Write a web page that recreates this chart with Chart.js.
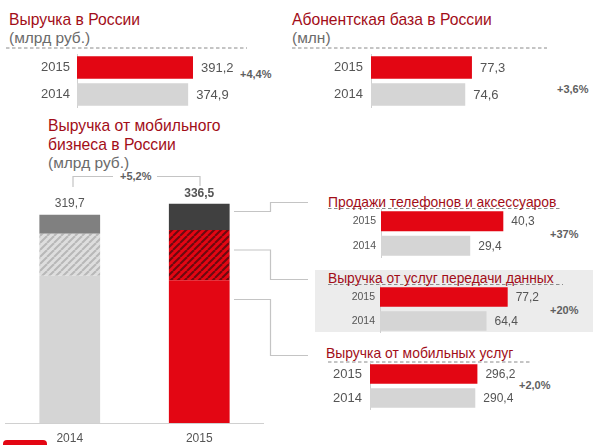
<!DOCTYPE html>
<html lang="ru">
<head>
<meta charset="utf-8">
<title>Выручка в России</title>
<script src="https://cdn.jsdelivr.net/npm/chart.js@4/dist/chart.umd.min.js"></script>
<style>
html,body{margin:0;padding:0;background:#fff;overflow:hidden}
#page{position:relative;width:600px;height:445px;overflow:hidden;font-family:"Liberation Sans",Arial,sans-serif}
canvas,.t,.d,svg{position:absolute}
.t{white-space:nowrap;line-height:1}
.h{color:#a20d18}
.s{color:#6b6b6b}
.p{color:#5f5f5f;font-weight:bold;font-size:11px}
</style>
</head>
<body>
<div id="page">
  <div style="position:absolute;left:315px;top:270px;width:278px;height:62px;background:#ececec"></div>
  <div style="position:absolute;left:3px;top:440px;width:44px;height:8px;background:#e30613;border-radius:4px 4px 0 0"></div>
  <svg width="600" height="445" style="left:0;top:0">
    <g fill="none" stroke="#c4c4c4" stroke-width="1.2">
      <polyline points="73,187 73,176.5 113,176.5"/>
      <polyline points="157,176.5 200,176.5 200,186"/>
      <polyline points="234,211.5 270.5,211.5 270.5,202.5 308,202.5"/>
      <polyline points="234,250 270.5,250 270.5,279.5 308,279.5"/>
      <polyline points="234,299.5 270.5,299.5 270.5,355.5 308,355.5"/>
    </g>
    <g stroke="#8a8a8a" stroke-width="1" stroke-dasharray="3.5 2.5">
      <line x1="6" y1="48" x2="247" y2="48"/>
      <line x1="292" y1="48" x2="547" y2="48"/>
      <line x1="328" y1="208.5" x2="562" y2="208.5"/>
      <line x1="328" y1="284.5" x2="563" y2="284.5"/>
      <line x1="328" y1="362" x2="532" y2="362"/>
    </g>
  </svg>
  <div class="t h" style="left:9px;top:12px;font-size:15.7px">Выручка в России</div>
  <div class="t s" style="left:9px;top:30px;font-size:15.5px">(млрд руб.)</div>
  <div class="t h" style="left:292px;top:12px;font-size:15.7px">Абонентская база в России</div>
  <div class="t s" style="left:292px;top:30px;font-size:15.5px">(млн)</div>
  <div class="t h" style="left:48px;top:118px;font-size:15.7px">Выручка от мобильного</div>
  <div class="t h" style="left:48px;top:137px;font-size:15.7px">бизнеса в России</div>
  <div class="t s" style="left:48px;top:155px;font-size:15.5px">(млрд руб.)</div>
  <div class="t h" style="left:328px;top:196px;font-size:13.9px">Продажи телефонов и аксессуаров</div>
  <div class="t h" style="left:328px;top:272px;font-size:13.8px">Выручка от услуг передачи данных</div>
  <div class="t h" style="left:326px;top:347px;font-size:13.9px">Выручка от мобильных услуг</div>
  <div class="t p" style="left:240px;top:69px">+4,4%</div>
  <div class="t p" style="left:557px;top:84px">+3,6%</div>
  <div class="t p" style="left:120px;top:171px">+5,2%</div>
  <div class="t p" style="left:550px;top:229px">+37%</div>
  <div class="t p" style="left:550px;top:305px">+20%</div>
  <div class="t p" style="left:519px;top:380px">+2,0%</div>
</div>
<script>
// --- data ---
const years = ['2015', '2014'];
const revenueRussia = [391.2, 374.9];
const subscribersRussia = [77.3, 74.6];
const phoneSales = [40.3, 29.4];
const dataRevenue = [77.2, 64.4];
const mobileServices = [296.2, 290.4];

const stackYears = ['2014', '2015'];
const stackPhones = [29.4, 40.3];
const stackData = [64.4, 77.2];
const stackOtherServices = [226, 219];
const stackTotals = [319.7, 336.5];

const RED = '#e30613', GREY = '#d5d5d5', TEXT = '#555555';
const FONT = '"Liberation Sans", Arial, sans-serif';
const page = document.getElementById('page');
const fmt = v => v.toFixed(1).replace('.', ',');

function addCanvas(left, top, w, h) {
  const c = document.createElement('canvas');
  c.width = w; c.height = h;
  c.style.cssText = `left:${left}px;top:${top}px;width:${w}px;height:${h}px`;
  page.appendChild(c);
  return c;
}

function hbar(o) {
  const gutter = 50;
  const plotW = o.plotW;
  const canvas = addCanvas(o.axisX - gutter, o.top, gutter + plotW, o.height);
  new Chart(canvas, {
    type: 'bar',
    data: { labels: years, datasets: [{
      data: o.values,
      backgroundColor: [RED, GREY],
      barPercentage: o.barPct,
      categoryPercentage: 1,
      borderWidth: 0
    }]},
    options: {
      indexAxis: 'y',
      responsive: false,
      animation: false,
      layout: { padding: 0 },
      plugins: { legend: { display: false }, tooltip: { enabled: false } },
      scales: {
        x: { display: false, min: o.min, max: o.min + plotW / o.pxPerUnit },
        y: {
          afterFit(s) { s.width = gutter; s.paddingTop = 0; s.paddingBottom = 0; },
          grid: { display: false, drawTicks: false },
          border: { display: true, color: '#d0d0d0', width: 1 },
          ticks: { color: TEXT, padding: o.tickPad, font: { family: FONT, size: o.tickSize } }
        }
      }
    },
    plugins: [{
      id: 'valueLabels',
      afterDatasetsDraw(chart) {
        const ctx = chart.ctx;
        ctx.save();
        ctx.fillStyle = TEXT;
        ctx.font = `${o.valueSize}px ${FONT}`;
        ctx.textBaseline = 'middle';
        ctx.textAlign = 'left';
        chart.getDatasetMeta(0).data.forEach((el, i) => {
          ctx.fillText(fmt(o.values[i]), el.x + 8, el.y + 0.5);
        });
        ctx.restore();
      }
    }]
  });
}

hbar({ axisX: 77, top: 54, height: 54, values: revenueRussia, min: 0, pxPerUnit: 0.2965, plotW: 160, barPct: 0.84, tickPad: 7, tickSize: 13, valueSize: 13 });
hbar({ axisX: 371, top: 54, height: 54, values: subscribersRussia, min: 36.6, pxPerUnit: 2.48, plotW: 160, barPct: 0.84, tickPad: 8, tickSize: 13, valueSize: 13 });
hbar({ axisX: 381, top: 209, height: 49, values: phoneSales, min: 0, pxPerUnit: 3.035, plotW: 165, barPct: 0.82, tickPad: 5, tickSize: 10.5, valueSize: 12 });
hbar({ axisX: 380, top: 285, height: 48, values: dataRevenue, min: 0, pxPerUnit: 1.654, plotW: 165, barPct: 0.82, tickPad: 5, tickSize: 10.5, valueSize: 12 });
hbar({ axisX: 370, top: 362, height: 48, values: mobileServices, min: 0, pxPerUnit: 0.3626, plotW: 150, barPct: 0.82, tickPad: 8, tickSize: 13, valueSize: 12 });

function hatch(bg, stripe, size, lw) {
  const t = document.createElement('canvas');
  t.width = t.height = size;
  const c = t.getContext('2d');
  c.fillStyle = bg; c.fillRect(0, 0, size, size);
  c.strokeStyle = stripe; c.lineWidth = lw;
  for (const d of [-size, 0, size]) {
    c.beginPath(); c.moveTo(d, size); c.lineTo(d + size, 0); c.stroke();
  }
  return c.createPattern(t, 'repeat');
}

const stackCanvas = addCanvas(5, 180, 259, 265);
new Chart(stackCanvas, {
  type: 'bar',
  data: {
    labels: stackYears,
    datasets: [
      { data: stackOtherServices, backgroundColor: [GREY, RED] },
      { data: stackData, backgroundColor: [hatch('#dedede', '#b8b8b8', 7, 2), hatch(RED, '#6a0a10', 7, 2)] },
      { data: stackPhones, backgroundColor: ['#808080', '#404040'] }
    ].map(d => ({ ...d, barPercentage: 0.469, categoryPercentage: 1, borderWidth: 0 }))
  },
  options: {
    responsive: false,
    animation: false,
    layout: { padding: 0 },
    plugins: { legend: { display: false }, tooltip: { enabled: false } },
    scales: {
      y: { display: false, stacked: true, min: 0, max: 373 },
      x: {
        stacked: true,
        afterFit(s) { s.height = 22; s.paddingLeft = 0; s.paddingRight = 0; },
        grid: { display: false, drawTicks: false },
        border: { display: true, color: '#d0d0d0', width: 1 },
        ticks: { color: TEXT, padding: 8, font: { family: FONT, size: 12 } }
      }
    }
  },
  plugins: [{
    id: 'totals',
    afterDatasetsDraw(chart) {
      const ctx = chart.ctx, top = chart.getDatasetMeta(2).data;
      ctx.save();
      ctx.fillStyle = TEXT;
      ctx.textAlign = 'center';
      ctx.textBaseline = 'middle';
      top.forEach((el, i) => {
        ctx.font = `${i === 1 ? 'bold ' : ''}12px ${FONT}`;
        ctx.fillText(fmt(stackTotals[i]), el.x, el.y - 10.5);
      });
      ctx.restore();
    }
  }]
});
</script>
</body>
</html>
